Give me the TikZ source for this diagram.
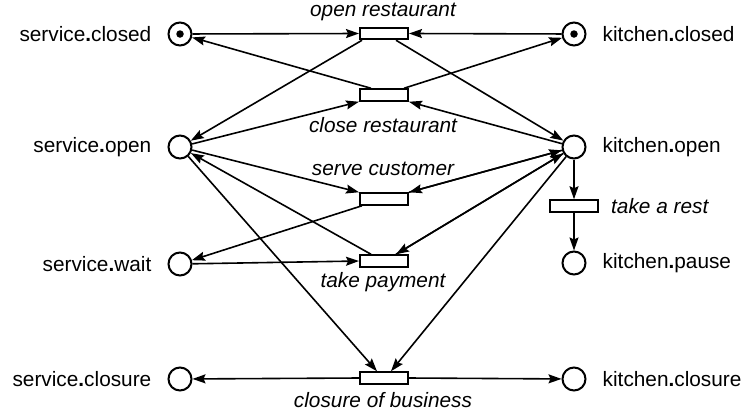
\documentclass[tikz,border=0pt]{standalone}
\usepackage{fontspec}
\setmainfont{Liberation Sans}
\usetikzlibrary{arrows.meta,calc}
% qualified place names: bold separator dot
\newcommand{\qdot}{{\bfseries.}}
\tikzset{
  place/.style={circle, draw, line width=2pt, minimum size=23pt, inner sep=0pt},
  trans/.style={rectangle, draw, line width=2pt, minimum width=48pt, minimum height=11.5pt, inner sep=0pt, fill=white},
  token/.style={circle, fill=black, minimum size=7.5pt, inner sep=0pt},
  plabel/.style={inner sep=0pt, font=\fontsize{20.8}{24}\selectfont},
  tlabel/.style={inner sep=0pt, font=\fontsize{20.8}{24}\selectfont\itshape},
  arc/.style={line width=1.6pt, -{Stealth[length=13pt,width=9pt,inset=2pt]}},
}
\begin{document}
\begin{tikzpicture}[x=1pt,y=-1pt]
\useasboundingbox (0,0) rectangle (747,416);

% places
\node[place] (sclosed) at (180,34) {};
\node[place] (kclosed) at (574,34) {};
\node[place] (sopen)   at (180,147) {};
\node[place] (kopen)   at (574,147) {};
\node[place] (swait)   at (180,264) {};
\node[place] (kpause)  at (574,263) {};
\node[place] (sclos)   at (180,379) {};
\node[place] (kclos)   at (574,379) {};

% tokens
\node[token] (tok1) at (sclosed) {};
\node[token] (tok2) at (kclosed) {};

% transitions
\node[trans] (orest)  at (384,33.5) {};
\node[trans] (crest)  at (384,95) {};
\node[trans] (serve)  at (384,199) {};
\node[trans] (pay)    at (384,261) {};
\node[trans] (cbus)   at (384,378) {};
\node[trans] (rest)   at (574,206) {};

% place labels
\node[plabel, anchor=east] (lsclosed) at ([xshift=-16pt]sclosed.west) {service\qdot closed};
\node[plabel, anchor=east] (lsopen)   at ([xshift=-16pt]sopen.west)   {service\qdot open};
\node[plabel, anchor=east] (lswait)   at ([xshift=-16pt]swait.west)   {service\qdot wait};
\node[plabel, anchor=east] (lsclos)   at ([xshift=-16pt]sclos.west)   {service\qdot closure};
\node[plabel, anchor=west] (lkclosed) at ([xshift=16pt]kclosed.east)  {kitchen\qdot closed};
\node[plabel, anchor=west] (lkopen)   at ([xshift=16pt]kopen.east)    {kitchen\qdot open};
\node[plabel, anchor=west] (lkpause)  at ([xshift=16pt]kpause.east)   {kitchen\qdot pause};
\node[plabel, anchor=west] (lkclos)   at ([xshift=16pt]kclos.east)    {kitchen\qdot closure};

% transition labels
\node[tlabel] (lorest) at (383,12)  {open restaurant};
\node[tlabel] (lcrest) at (383,125) {close restaurant};
\node[tlabel] (lserve) at (383,169) {serve customer};
\node[tlabel] (lpay)   at (383,282) {take payment};
\node[tlabel] (lcbus)  at (383,400) {closure of business};
\node[tlabel, anchor=west] (lrest) at ([xshift=12pt]rest.east) {take a rest};

% open restaurant
\draw[arc] (sclosed) -- (orest.west);
\draw[arc] (kclosed) -- (orest.east);
\draw[arc] ($(orest.south west)+(3,0)$) -- (sopen);
\draw[arc] ($(orest.south east)+(-13,0)$) -- (kopen);

% close restaurant
\draw[arc] (sopen) -- (crest.south west);
\draw[arc] (kopen) -- (crest.south east);
\draw[arc] ($(crest.north west)+(12,0)$) -- (sclosed);
\draw[arc] ($(crest.north east)+(-5,0)$) -- (kclosed);

% serve customer
\draw[arc] (sopen) -- (serve.north west);
\draw[arc] (kopen) -- (serve.north east);
\draw[arc] (serve.north east) -- (kopen);
\draw[arc] ($(serve.south west)+(3,0)$) -- (swait);

% take payment
\draw[arc] (swait) -- (pay.west);
\draw[arc] (kopen) -- ($(pay.north east)+(-13,0)$);
\draw[arc] ($(pay.north east)+(-13,0)$) -- (kopen);
\draw[arc] ($(pay.north west)+(12,0)$) -- (sopen);

% take a rest
\draw[arc] (kopen) -- (rest);
\draw[arc] (rest) -- (kpause);

% closure of business
\draw[arc] (sopen) -- ($(cbus.north west)+(18,0)$);
\draw[arc] (kopen) -- ($(cbus.north east)+(-18,0)$);
\draw[arc] (cbus.west) -- (sclos);
\draw[arc] (cbus.east) -- (kclos);
\end{tikzpicture}
\end{document}
